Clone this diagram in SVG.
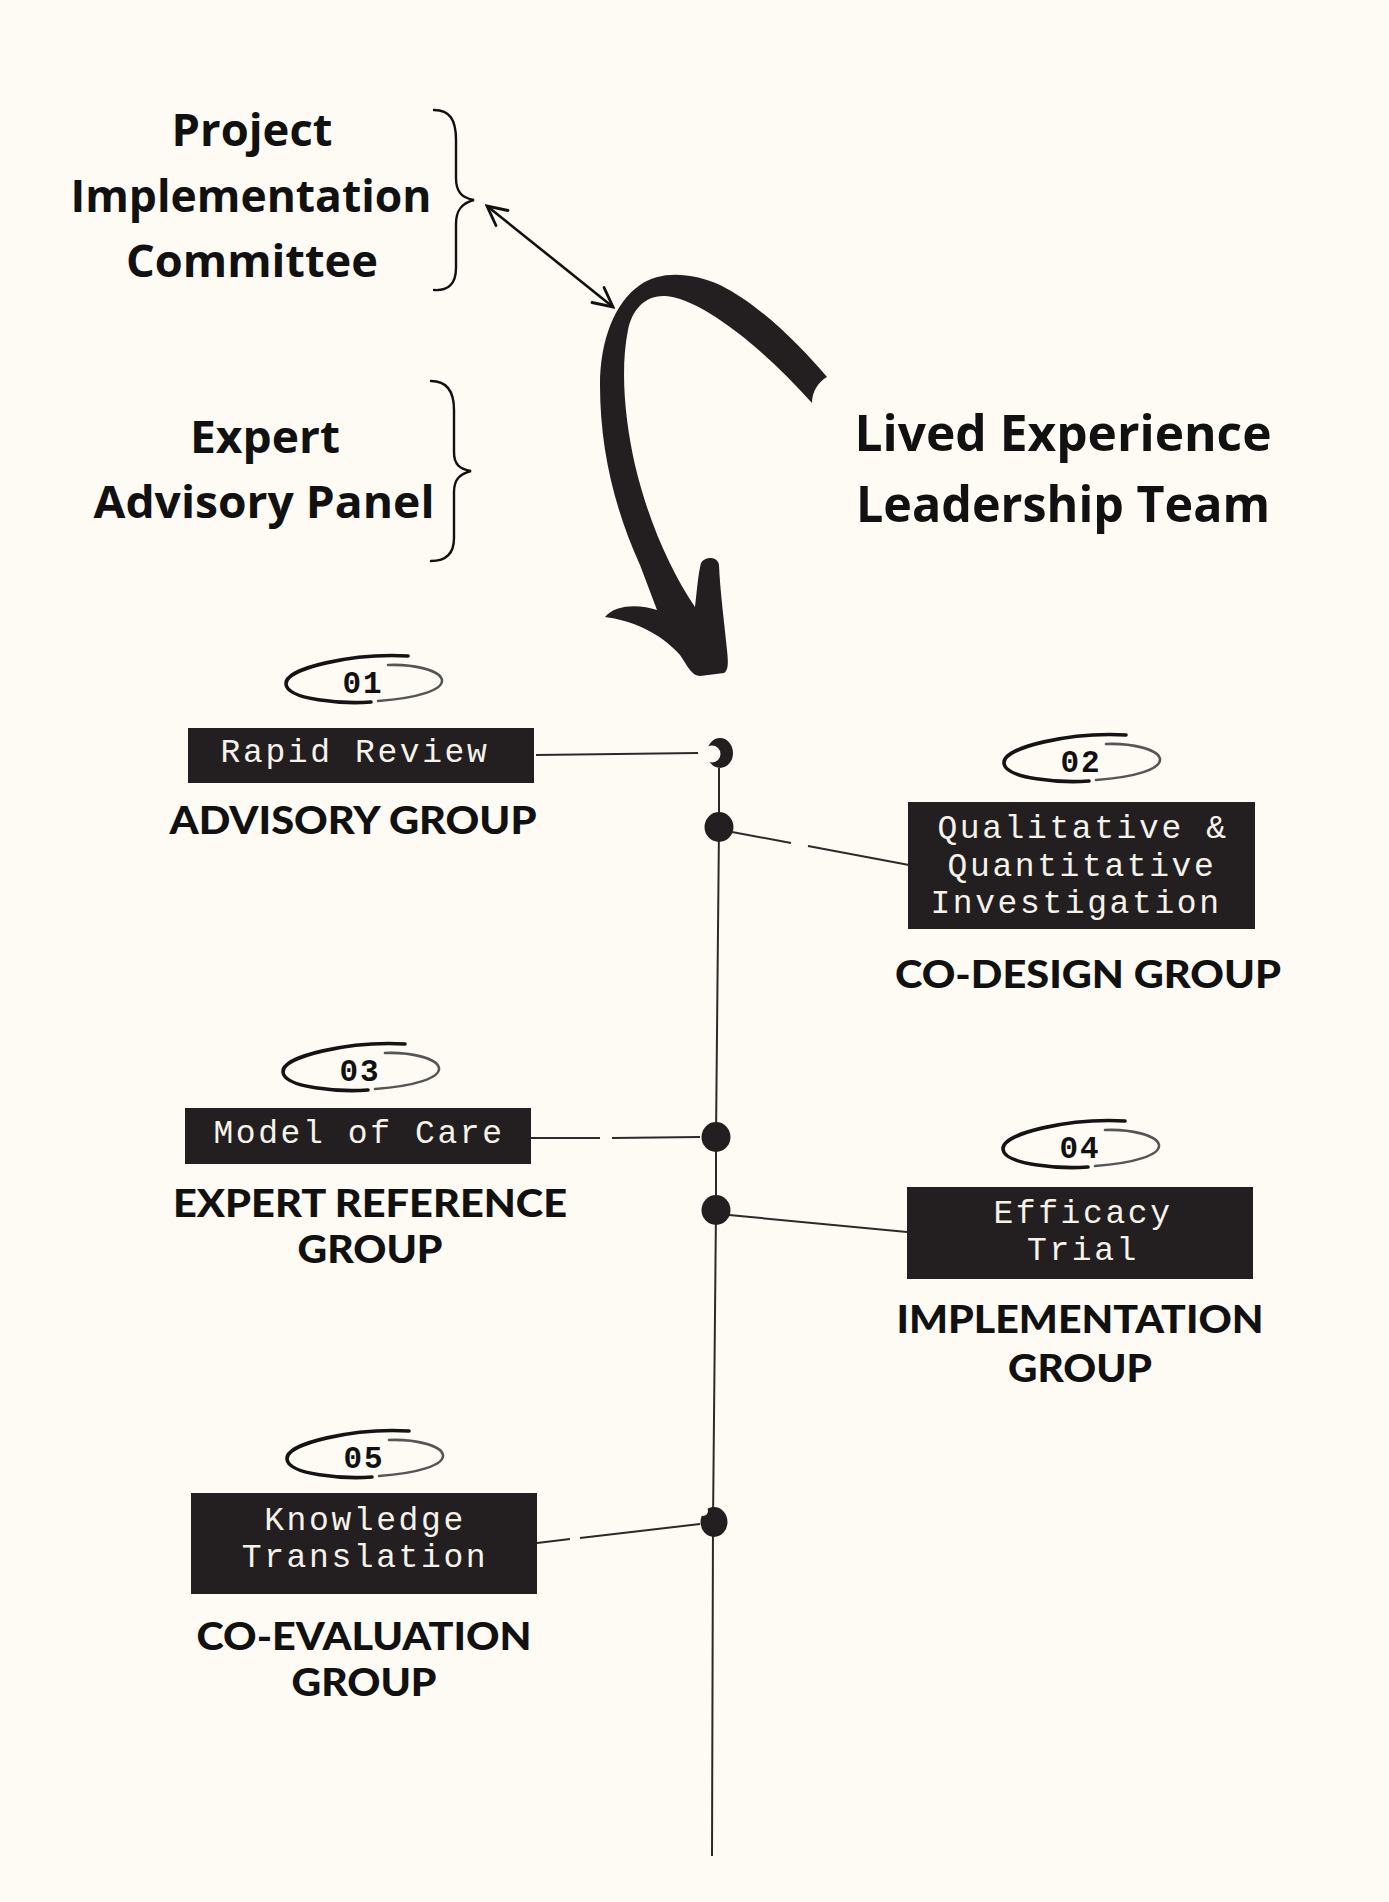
<svg xmlns="http://www.w3.org/2000/svg" width="1389" height="1902" viewBox="0 0 1389 1902">
<style>
.hd{font-family:"Open Sans","Liberation Sans",sans-serif;font-weight:700;fill:#111;text-anchor:middle}
.lb{font-family:Lato,"Open Sans","Liberation Sans",sans-serif;font-weight:900;font-size:37px;fill:#111;text-anchor:middle}
.bx{fill:#231F20}
.bt{font-family:"Liberation Mono","Courier New",monospace;font-size:33px;letter-spacing:2.6px;fill:#F5F2EA;text-anchor:middle}
.num{font-family:"Liberation Mono","Courier New",monospace;font-weight:700;font-size:31px;fill:#111;text-anchor:middle;letter-spacing:2px}
.ovk{fill:none;stroke:#141414;stroke-width:3.6;stroke-linecap:round}
.ovt{fill:none;stroke:#555;stroke-width:2.6;stroke-linecap:round}
.br{fill:none;stroke:#111;stroke-width:2.4;stroke-linecap:round}
.cn{fill:none;stroke:#2a2a2a;stroke-width:2}
.dot{fill:#231F20}
</style>
<defs>
<marker id="vhead" viewBox="0 0 20 20" refX="18" refY="10" markerWidth="24" markerHeight="24" markerUnits="userSpaceOnUse" orient="auto-start-reverse">
<path d="M2,2 L18,10 L2,18" fill="none" stroke="#111" stroke-width="2.4" stroke-linecap="round"/>
</marker>
<g id="oval">
<path class="ovk" d="M 45 -24 C -10 -27, -78 -12, -77 4 C -76 20, -20 24, 8 22"/>
<path class="ovt" d="M 15 21 C 55 18, 80 10, 79 0 C 77 -10, 50 -16, 25 -15"/>
</g>
</defs>
<rect width="1389" height="1902" fill="#FDFBF3"/>

<g id="pic">
<text class="hd" font-size="45" x="252" y="146" textLength="161" lengthAdjust="spacingAndGlyphs">Project</text>
<text class="hd" font-size="45" x="251" y="212" textLength="361" lengthAdjust="spacingAndGlyphs">Implementation</text>
<text class="hd" font-size="45" x="252" y="277" textLength="252" lengthAdjust="spacingAndGlyphs">Committee</text>
<path class="br" d="M 434 110 C 450 110, 456 120, 456 140 L 456 178 C 456 192, 462 198, 474 200 C 462 203, 456 210, 456 224 L 456 268 C 456 284, 448 291, 434 290"/>
</g>

<g id="eap">
<text class="hd" font-size="45" x="265" y="453" textLength="150" lengthAdjust="spacingAndGlyphs">Expert</text>
<text class="hd" font-size="45" x="264" y="518" textLength="341" lengthAdjust="spacingAndGlyphs">Advisory Panel</text>
<path class="br" d="M 431 381 C 447 381, 454 391, 454 410 L 454 452 C 454 465, 460 469, 471 471 C 460 474, 454 479, 454 492 L 454 538 C 454 554, 446 561, 431 561"/>
</g>

<g id="lelt">
<text class="hd" font-size="50" x="1063" y="451" textLength="417" lengthAdjust="spacingAndGlyphs">Lived Experience</text>
<text class="hd" font-size="50" x="1063" y="522" textLength="414" lengthAdjust="spacingAndGlyphs">Leadership Team</text>
</g>

<g id="bigarrow">
<path fill="#231F20" d="M 827 377 C 800 345, 760 305, 720 285 C 690 272, 660 271, 640 285 C 615 302, 600 340, 600 385 C 600 450, 615 510, 640 565 L 657 610 C 640 604, 615 604, 605 617 C 630 620, 660 632, 680 655 C 688 667, 692 676, 700 676 L 724 673 C 729 670, 728 660, 727 650 C 724 620, 720 590, 719 565 C 718 556, 705 556, 701 563 C 698 575, 697 590, 695 607 C 670 570, 648 520, 635 465 C 625 420, 620 370, 628 330 C 632 310, 645 295, 665 296 C 700 298, 760 345, 812 403 C 812 392, 818 382, 827 377 Z"/>
</g>

<g id="connectors">
<line x1="487" y1="206" x2="613" y2="307" stroke="#111" stroke-width="2.6" marker-start="url(#vhead)" marker-end="url(#vhead)"/>
<polyline class="cn" points="719,768 719,827 716,1137 716,1210 713,1522 712,1856"/>
<line class="cn" x1="536" y1="755" x2="698" y2="753"/>
<line class="cn" x1="732" y1="832" x2="791" y2="843"/>
<line class="cn" x1="808" y1="846" x2="909" y2="865"/>
<line class="cn" x1="531" y1="1138" x2="600" y2="1138"/>
<line class="cn" x1="612" y1="1138" x2="700" y2="1137"/>
<line class="cn" x1="729" y1="1215" x2="907" y2="1232"/>
<line class="cn" x1="537" y1="1543" x2="570" y2="1539"/>
<line class="cn" x1="580" y1="1538" x2="700" y2="1524"/>
<ellipse class="dot" cx="720" cy="753" rx="13" ry="15"/>
<circle cx="712" cy="754" r="8.5" fill="#FDFBF3"/>
<ellipse class="dot" cx="719" cy="827" rx="14.5" ry="15"/>
<ellipse class="dot" cx="716" cy="1137" rx="14.5" ry="15"/>
<ellipse class="dot" cx="716" cy="1210" rx="14.5" ry="15"/>
<ellipse class="dot" cx="714" cy="1522" rx="13.5" ry="15"/>
<circle cx="703" cy="1511" r="5" fill="#FDFBF3"/>
</g>

<g id="n01">
<use href="#oval" transform="translate(363,680)"/>
<text class="num" x="363" y="693">01</text>
<rect class="bx" x="188" y="728" width="346" height="55"/>
<text class="bt" x="355" y="762">Rapid Review</text>
<text class="lb" x="353" y="834" textLength="367" lengthAdjust="spacingAndGlyphs">ADVISORY GROUP</text>
</g>

<g id="n02">
<use href="#oval" transform="translate(1081,759)"/>
<text class="num" x="1081" y="772">02</text>
<rect class="bx" x="908" y="802" width="347" height="127"/>
<text class="bt" x="1083" y="838">Qualitative &amp;</text>
<text class="bt" x="1082" y="876">Quantitative</text>
<text class="bt" x="1076" y="913">Investigation</text>
<text class="lb" x="1088" y="988" textLength="386" lengthAdjust="spacingAndGlyphs">CO-DESIGN GROUP</text>
</g>

<g id="n03">
<use href="#oval" transform="translate(360,1068)"/>
<text class="num" x="360" y="1081">03</text>
<rect class="bx" x="185" y="1108" width="346" height="56"/>
<text class="bt" x="359" y="1143">Model of Care</text>
<text class="lb" x="370" y="1217" textLength="394" lengthAdjust="spacingAndGlyphs">EXPERT REFERENCE</text>
<text class="lb" x="370" y="1263" textLength="145" lengthAdjust="spacingAndGlyphs">GROUP</text>
</g>

<g id="n04">
<use href="#oval" transform="translate(1080,1145)"/>
<text class="num" x="1080" y="1158">04</text>
<rect class="bx" x="907" y="1187" width="346" height="92"/>
<text class="bt" x="1083" y="1223">Efficacy</text>
<text class="bt" x="1083" y="1260">Trial</text>
<text class="lb" x="1080" y="1333" textLength="367" lengthAdjust="spacingAndGlyphs">IMPLEMENTATION</text>
<text class="lb" x="1080" y="1382" textLength="144" lengthAdjust="spacingAndGlyphs">GROUP</text>
</g>

<g id="n05">
<use href="#oval" transform="translate(364,1455)"/>
<text class="num" x="364" y="1468">05</text>
<rect class="bx" x="191" y="1493" width="346" height="101"/>
<text class="bt" x="365" y="1530">Knowledge</text>
<text class="bt" x="365" y="1567">Translation</text>
<text class="lb" x="364" y="1650" textLength="335" lengthAdjust="spacingAndGlyphs">CO-EVALUATION</text>
<text class="lb" x="364" y="1696" textLength="145" lengthAdjust="spacingAndGlyphs">GROUP</text>
</g>
</svg>
